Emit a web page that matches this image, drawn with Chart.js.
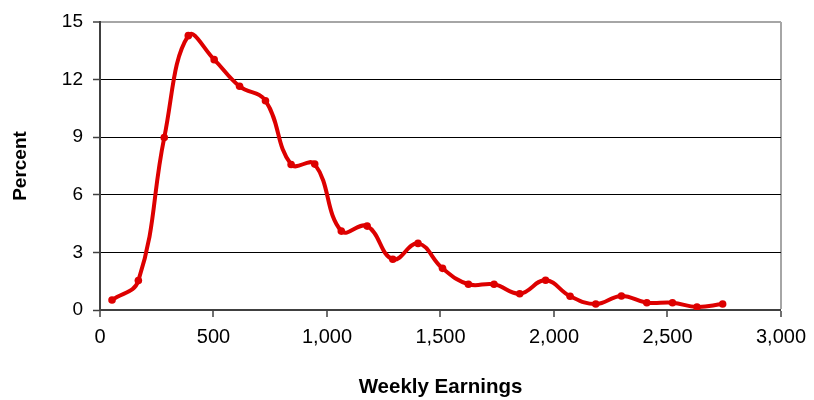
<!DOCTYPE html>
<html>
<head>
<meta charset="utf-8">
<script src="https://cdn.jsdelivr.net/npm/chart.js@4/dist/chart.umd.min.js"></script>
<style>
html,body{margin:0;padding:0;background:#fff;}
#wrap{width:814px;height:400px;}
</style>
</head>
<body>
<div id="wrap"><canvas id="c" width="814" height="400"></canvas></div>
<script>
const earnings = [53,169,283,389,503,615,729,842,946,1063,1177,1290,1401,1509,1623,1736,1849,1963,2071,2184,2297,2409,2522,2630,2743];
const percent  = [0.52,1.53,8.98,14.29,13.04,11.65,10.9,7.58,7.6,4.11,4.37,2.64,3.47,2.17,1.34,1.34,0.85,1.55,0.72,0.31,0.73,0.38,0.38,0.16,0.31];
const xTicks = [0,500,1000,1500,2000,2500,3000];
const yTicks = [0,3,6,9,12,15];

const points = earnings.map((x,i)=>({x:x,y:percent[i]}));
const red = '#dd0000';
const font = 'Liberation Sans, Arial, sans-serif';

new Chart(document.getElementById('c'), {
  type: 'line',
  data: { datasets: [{
    data: points,
    borderColor: red,
    backgroundColor: red,
    borderWidth: 4,
    pointRadius: 3.8,
    pointHoverRadius: 3.8,
    pointBackgroundColor: red,
    pointBorderColor: red,
    pointBorderWidth: 0,
    tension: 0.42,
    fill: false
  }]},
  options: {
    responsive: false,
    animation: false,
    events: [],
    layout: { padding: { left: 0, top: 22, right: 30, bottom: 0 } },
    plugins: { legend: { display: false }, tooltip: { enabled: false } },
    scales: {
      x: {
        type: 'linear',
        min: xTicks[0], max: xTicks[xTicks.length-1],
        afterBuildTicks: s => { s.ticks = xTicks.map(v=>({value:v})); },
        afterFit: s => { s.height = 90; },
        border: { display: true, color: '#404040', width: 2 },
        grid: {
          drawOnChartArea: true,
          color: c => (c.tick && c.tick.value === 3000) ? '#a6a6a6' : 'rgba(0,0,0,0)',
          lineWidth: c => (c.tick && c.tick.value === 3000) ? 2 : 0,
          tickColor: '#404040',
          tickWidth: 1.5,
          tickLength: 7
        },
        ticks: {
          color: '#000',
          font: { family: font, size: 20 },
          padding: 8,
          maxRotation: 0,
          callback: v => v.toLocaleString('en-US')
        },
        title: {
          display: true, text: 'Weekly Earnings', color: '#000',
          font: { family: font, size: 20.5, weight: 'bold' },
          padding: { top: 0, bottom: 0 }
        }
      },
      y: {
        min: yTicks[0], max: yTicks[yTicks.length-1],
        afterBuildTicks: s => { s.ticks = yTicks.map(v=>({value:v})); },
        afterFit: s => { s.width = 100; },
        border: { display: true, color: '#404040', width: 2 },
        grid: {
          color: c => (c.tick && c.tick.value === 15) ? '#a6a6a6' : (c.tick && c.tick.value === 0 ? 'rgba(0,0,0,0)' : '#000'),
          lineWidth: c => (c.tick && c.tick.value === 15) ? 2 : 1,
          tickColor: '#404040',
          tickWidth: 1.5,
          tickLength: 7
        },
        ticks: {
          color: '#000',
          font: { family: font, size: 19 },
          padding: 10
        },
        title: {
          display: true, text: 'Percent', color: '#000',
          font: { family: font, size: 19, weight: 'bold' },
          padding: { top: 9, bottom: 0 }
        }
      }
    }
  }
});
</script>
</body>
</html>
